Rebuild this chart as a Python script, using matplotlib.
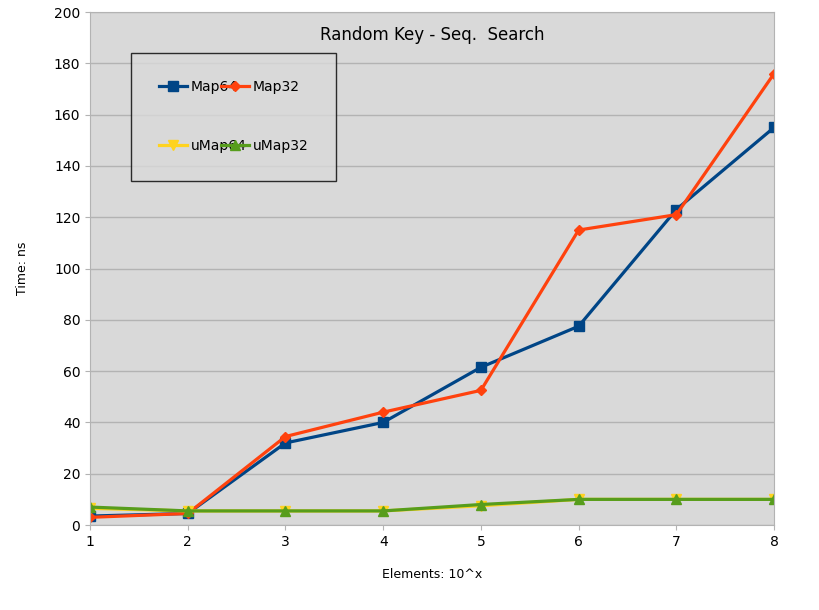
import matplotlib.pyplot as plt

elements = [1, 2, 3, 4, 5, 6, 7, 8]
map64 = [3.5, 4.5, 32, 40, 61.5, 77.5, 123, 155]
map32 = [3, 4.5, 34.5, 44, 52.5, 115, 121, 176]
umap64 = [6.5, 5.5, 5.5, 5.5, 7.5, 10, 10, 10]
umap32 = [7, 5.5, 5.5, 5.5, 8, 10, 10, 10]

fig = plt.figure(figsize=(8.2, 6.1), dpi=100)
ax = fig.add_axes([0.1098, 0.1393, 0.8342, 0.841])
ax.set_facecolor("#d9d9d9")

h1, = ax.plot(elements, map64, color="#004586", lw=2.3, marker="s", ms=7, label="Map64")
h2, = ax.plot(elements, map32, color="#ff420e", lw=2.3, marker="D", ms=5, label="Map32")
h3, = ax.plot(elements, umap64, color="#ffd320", lw=2.3, marker="v", ms=7, label="uMap64")
h4, = ax.plot(elements, umap32, color="#579d1c", lw=2.3, marker="^", ms=7, label="uMap32")

ax.set_xlim(1, 8)
ax.set_ylim(0, 200)
ax.set_yticks(range(0, 201, 20))
ax.grid(axis="y", color="#b3b3b3", lw=1)
ax.set_axisbelow(True)
for s in ax.spines.values():
    s.set_color("#b3b3b3")
ax.tick_params(colors="#b3b3b3", labelcolor="black", labelsize=10)

ax.set_xlabel("Elements: 10^x", fontsize=9, labelpad=14)
ax.set_ylabel("Time: ns", fontsize=9, labelpad=18)
ax.text(0.5, 0.955, "Random Key - Seq.  Search", transform=ax.transAxes,
        ha="center", va="center", fontsize=12)

# column-major fill, so order gives rows Map64/Map32 and uMap64/uMap32
leg = ax.legend([h1, h3, h2, h4], ["Map64", "uMap64", "Map32", "uMap32"],
                ncol=2, loc="upper left", bbox_to_anchor=(0.06, 0.66, 0.30, 0.261),
                mode="expand", frameon=True, fancybox=False, fontsize=10,
                labelspacing=3.2, handlelength=2.0, borderaxespad=0, borderpad=2.0,
                columnspacing=1.2, handletextpad=0.3)
leg.get_frame().set_edgecolor("black")
leg.get_frame().set_facecolor("#d9d9d9")
leg.get_frame().set_linewidth(1)

fig.savefig("out.png", dpi=100)
